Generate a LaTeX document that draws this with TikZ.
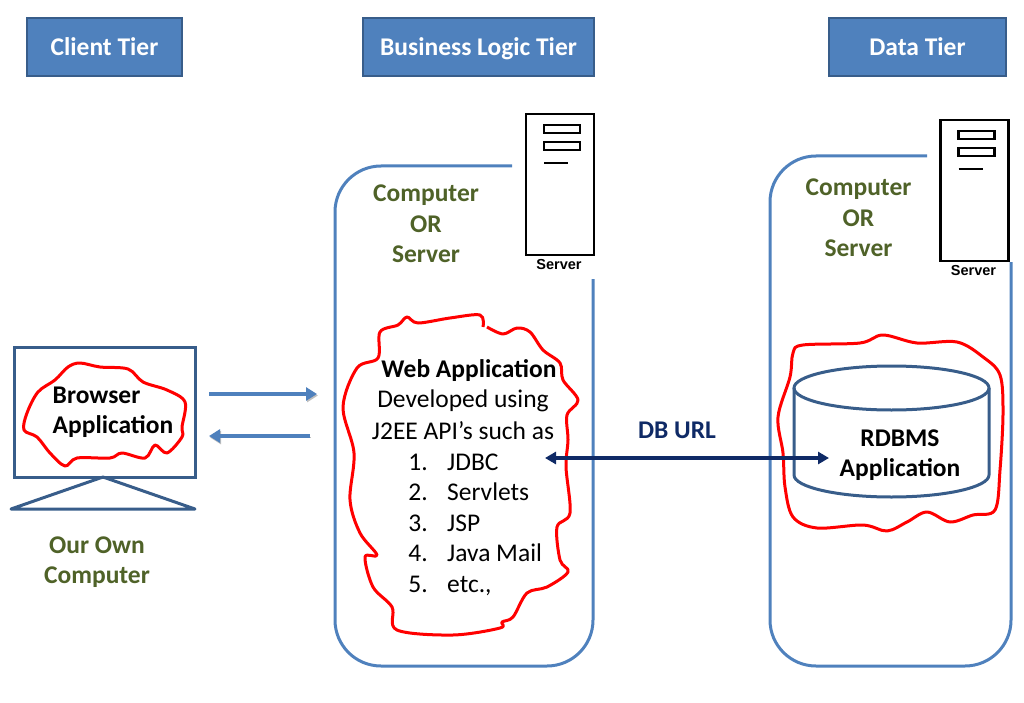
\documentclass[tikz,border=0pt]{standalone}
\usepackage{fontspec}
\setmainfont{Carlito}
\newfontfamily\iconfont{Liberation Sans}
\usetikzlibrary{arrows.meta, positioning}
\definecolor{tierblue}{HTML}{4F81BD}
\definecolor{tieredge}{HTML}{385D8A}
\definecolor{textgreen}{HTML}{4F6228}
\definecolor{urlnavy}{HTML}{0F2A66}

\begin{document}
\begin{tikzpicture}[x=1pt,y=-1pt,font=\fontsize{25.5}{30}\selectfont]
    \tikzstyle{tier}=[rectangle,fill=tierblue,draw=tieredge,line width=2.5pt,minimum height=58pt,inner sep=0pt,text=white,text height=22pt,text depth=4pt,font=\fontsize{25.5}{30}\selectfont\bfseries]
    \tikzstyle{place}=[text=textgreen,align=center,font=\fontsize{25.5}{30.3}\selectfont\bfseries]
    \tikzstyle{boldtext}=[text=black,align=center,font=\fontsize{25.5}{30.3}\selectfont\bfseries]
    \tikzstyle{plain}=[text=black,inner sep=0pt]
    \tikzstyle{hull}=[draw=tierblue,line width=3pt]
    \tikzstyle{blob}=[draw=red,line width=3pt,line join=round]
    \tikzstyle{tower}=[draw=black,line width=2.2pt]
    \tikzstyle{kit}=[draw=tieredge,line width=3pt]
    \tikzstyle{flow}=[draw=tierblue,line width=4pt,-{Triangle[length=11pt,width=13pt]},
        preaction={draw=black!25,transform canvas={shift={(1pt,-1.5pt)}}}]
    \tikzstyle{dburl}=[draw=urlnavy,line width=3.6pt,{Triangle[length=11pt,width=12pt]}-{Triangle[length=11pt,width=12pt]}]

    \useasboundingbox (0,0) rectangle (1024,703);

    % Tier headers
    \foreach \name/\x/\w/\txt in {client/104.5/155/Client Tier,logic/478.5/231/Business Logic Tier,data/917.5/177/Data Tier}
        \node[tier,minimum width=\w pt] (T-\name) at (\x,47) {\txt};

    % Open rounded hulls, the server icons sit in their gaps
    \draw[hull,rounded corners=46pt] (512,166) -- (335,166) -- (335,666) -- (593,666) -- (593,279);
    \draw[hull,rounded corners=46pt] (927,156) -- (770,156) -- (770,666) -- (1011,666) -- (1011,262);

    % Server icons
    \foreach \name/\x/\y in {logic/526/114,data/940.5/120}
    {
        \draw[tower] (\x,\y) rectangle ++(68,141);
        \draw[tower] (\x+18,\y+11) rectangle ++(36,8);
        \draw[tower] (\x+18,\y+28) rectangle ++(36,8);
        \draw[tower] (\x+18,\y+49) -- ++(24,0);
        \node[plain,font=\iconfont\fontsize{14.5}{16}\selectfont\bfseries] (S-\name) at (\x+33,\y+151) {Server};
    }

    % Computer labels
    \node[place] (P-logic) at (426,224) {Computer\\OR\\Server};
    \node[place] (P-data) at (858.5,218) {Computer\\OR\\Server};
    \node[place] (P-client) at (97,562) {Our Own\\Computer};

    % Monitor
    \node[rectangle,kit,minimum width=181pt,minimum height=130pt,inner sep=0pt] (M) at (104.5,412) {};
    \coordinate (M-foot) at (103,477);
    \draw[kit,line join=round] (M-foot) -- (11,509) -- (195,509) -- cycle;

    % Browser blob
    \draw[blob] plot[smooth cycle,tension=0.55] coordinates {(80,363) (100,367) (128,369) (143,382) (167,390) (185,402) (182,427) (182,437) (167,453) (155,445) (145,458) (122,453) (110,458) (77,458) (65,466) (50,453) (37,437) (24,430) (27,413) (38,392) (55,380) (68,367)};
    \node[boldtext,align=left,inner sep=0pt] (B) at (113,412.5) {Browser\\Application};

    % Web application blob
    \draw[blob] plot[smooth,tension=0.55] coordinates {(487,327) (503,334) (517,328) (530,332) (543,350) (560,363) (563,380) (578,400) (567,415) (568,440) (566,467) (570,513) (557,527) (560,560) (568,572) (547,587) (527,593) (513,617) (502,622) (500,628) (453,635) (397,630) (392,607) (373,587) (365,557) (377,555) (360,533) (350,500) (354,453) (343,407) (357,368) (378,358) (380,332) (398,325) (407,317) (418,323) (450,318) (480,315) (483,327)};
    \node[boldtext,inner sep=0pt] (W) at (469,371) {Web Application};
    \node[plain] (W-1) at (463,401) {Developed using};
    \node[plain] (W-2) at (463,431) {J2EE API’s such as};

    % The numbered list
    \foreach \num/\y/\txt in {1/462/JDBC,2/492.5/Servlets,3/523/JSP,4/553.5/Java Mail,5/584/etc.{,}}
    {
        \node[plain,anchor=base] (N-\num) at (418,\y+8) {\num.};
        \node[plain,anchor=base west] (I-\num) at (447,\y+8) {\txt};
    }

    % Database
    \draw[kit] (794,388) -- (794,475) arc[start angle=180,end angle=360,x radius=97.5,y radius=-22] -- (989,388);
    \draw[kit] (891.5,388) ellipse[x radius=97.5,y radius=22];
    \draw[blob] plot[smooth cycle,tension=0.55] coordinates {(793,353) (803,345) (860,343) (883,335) (917,343) (957,342) (983,357) (1000,375) (1003,413) (1000,470) (995,510) (973,515) (950,522) (927,512) (907,522) (887,531) (863,525) (817,528) (793,517) (785,487) (783,453) (778,417) (790,377)};
    \node[boldtext] (R) at (900,455) {RDBMS\\Application};

    % Arrows
    \coordinate (A-1) at (209,394);
    \coordinate (A-2) at (317,394);
    \coordinate (A-3) at (310,436);
    \coordinate (A-4) at (209,436);
    \coordinate (U-1) at (545,458);
    \coordinate (U-2) at (829,458);
    \draw[flow] (A-1) -- (A-2);
    \draw[flow] (A-3) -- (A-4);
    \draw[dburl] (U-1) -- (U-2);
    \node[boldtext,text=urlnavy] (U) at (677,430) {DB URL};
\end{tikzpicture}
\end{document}
